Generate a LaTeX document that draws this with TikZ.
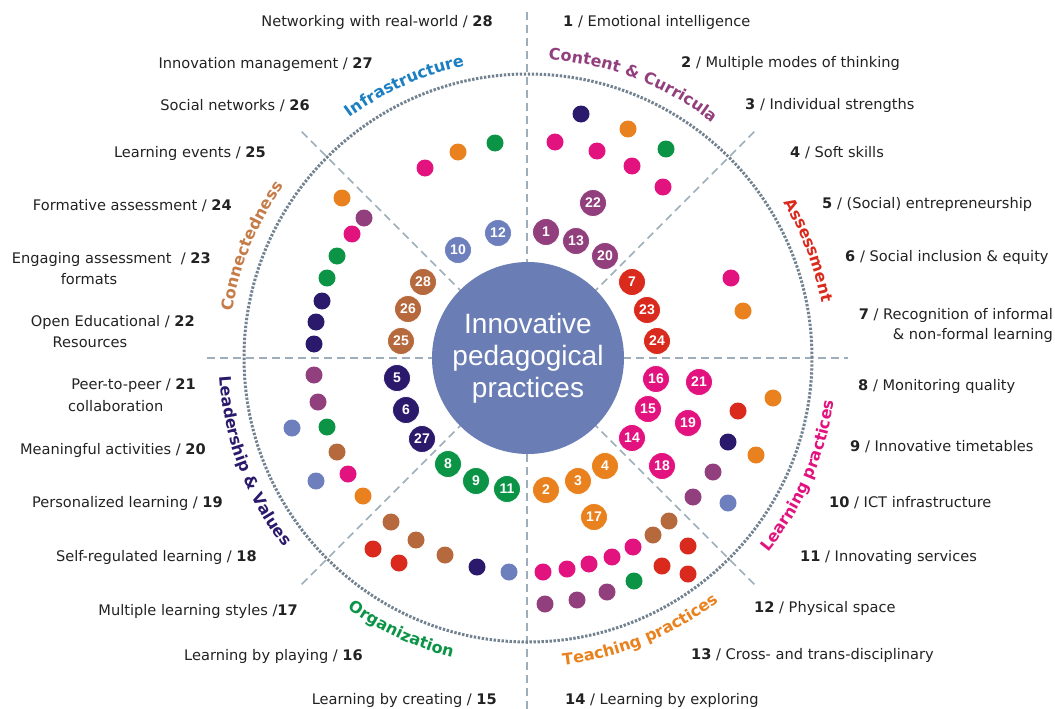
\documentclass[tikz,border=0pt]{standalone}
\usepackage{fontspec}
\setmainfont{DejaVu Sans}
\newfontfamily\hubfont{Liberation Sans}
\usepackage{xcolor}
\usetikzlibrary{decorations.text}
\definecolor{ink}{HTML}{222222}
\definecolor{ringGray}{HTML}{728290}
\definecolor{lineGray}{HTML}{9DAEBA}
\definecolor{hubBlue}{HTML}{6A7DB5}
\definecolor{cPurple}{HTML}{923F7E}
\definecolor{cMagenta}{HTML}{E2127F}
\definecolor{cOrange}{HTML}{E9821E}
\definecolor{cGreen}{HTML}{0B9446}
\definecolor{cNavy}{HTML}{2B1A6B}
\definecolor{cRed}{HTML}{DA2A1D}
\definecolor{cBrown}{HTML}{B5693C}
\definecolor{cSlate}{HTML}{6D80BD}
\definecolor{cBlue}{HTML}{1C7FC1}
\definecolor{cTan}{HTML}{C47C48}
\newcommand\catfont{\bfseries\fontsize{16}{16}\selectfont}
\tikzset{
  ringLine/.style={draw=ringGray, line width=3pt, dash pattern=on 2.4pt off 1.6pt},
  sectorLine/.style={draw=lineGray, line width=1.7pt, dash pattern=on 8pt off 5pt},
  hubDisk/.style={circle, fill=hubBlue, text=white, minimum size=192pt, inner sep=0pt,
    align=center, font=\hubfont\fontsize{28}{32}\selectfont},
  numDot/.style={circle, fill=#1, draw=white, line width=0.8pt, text=white,
    minimum size=27pt, inner sep=0pt, font=\hubfont\bfseries\fontsize{14}{14}\selectfont},
  smallDot/.style={circle, fill=#1, minimum size=17pt, inner sep=0pt},
  itemText/.style={text=ink, font=\fontsize{14.6}{20}\selectfont, inner sep=0pt},
  catPath/.style={decorate, decoration={text along path, text align=center, text={#1}}}
}

\begin{document}
\begin{tikzpicture}[x=1pt, y=-1pt]
  \useasboundingbox (0,0) rectangle (1055,709);

  \coordinate (c) at (528,358);
  \coordinate (west) at (207,358);
  \coordinate (east) at (848,358);
  \coordinate (north) at (527,12);
  \coordinate (south) at (527,709);

  \draw[sectorLine] (west) -- (east);
  \draw[sectorLine] (north) -- (south);

  \begin{scope}[shift={(528,358)}]
    \foreach \a/\nm in {45/ne, 135/nw, 225/sw, 315/se}
      \coordinate (\nm) at (\a:320pt);
    \draw[ringLine] (0,0) circle[radius=284pt];

    \path[catPath={|\catfont\color{cBlue}|Infrastructure}]
      (154.4:299pt) arc[start angle=154.4, end angle=74.4, radius=299pt];
    \path[catPath={|\catfont\color{cPurple}|Content {\&} Curricula}]
      (109:299pt) arc[start angle=109, end angle=29, radius=299pt];
    \path[catPath={|\catfont\color{cRed}|Assessment}]
      (61:299pt) arc[start angle=61, end angle=-19, radius=299pt];
    \path[catPath={|\catfont\color{cTan}|Connectedness}]
      (198:299pt) arc[start angle=198, end angle=118, radius=299pt];
    \path[catPath={|\catfont\color{cNavy}|Leadership {\&} Values}]
      (160.6:309pt) arc[start angle=160.6, end angle=240.6, radius=309pt];
    \path[catPath={|\catfont\color{cGreen}|Organization}]
      (205:309pt) arc[start angle=205, end angle=285, radius=309pt];
    \path[catPath={|\catfont\color{cOrange}|Teaching practices}]
      (252.3:309pt) arc[start angle=252.3, end angle=332.3, radius=309pt];
    \path[catPath={|\catfont\color{cMagenta}|Learning practices}]
      (296.5:309pt) arc[start angle=296.5, end angle=376.5, radius=309pt];
  \end{scope}

  \foreach \nm in {ne, nw, sw, se}
    \draw[sectorLine] (c) -- (\nm);

  \node[hubDisk] (hub) at (c) {Innovative\\pedagogical\\practices};

  \foreach \x/\y/\col [count=\i] in {
      495/143/cGreen, 458/152/cOrange, 425/168/cMagenta,
      342/198/cOrange, 364/218/cPurple, 352/234/cMagenta, 337/256/cGreen,
      327/278/cGreen, 322/301/cNavy, 316/322/cNavy, 314/344/cNavy,
      314/375/cPurple, 318/402/cPurple, 292/428/cSlate, 327/427/cGreen,
      337/452/cBrown, 348/474/cMagenta, 316/481/cSlate, 363/496/cOrange,
      391/522/cBrown, 416/540/cBrown, 373/549/cRed, 399/563/cRed,
      445/555/cBrown, 477/567/cNavy, 509/572/cSlate,
      669/521/cBrown, 653/535/cBrown, 633/547/cMagenta, 612/557/cMagenta,
      589/564/cMagenta, 567/569/cMagenta, 543/572/cMagenta, 688/546/cRed,
      662/566/cRed, 688/574/cRed, 634/581/cGreen, 607/592/cPurple,
      577/600/cPurple, 545/604/cPurple,
      738/411/cRed, 773/398/cOrange, 728/442/cNavy, 756/455/cOrange,
      713/472/cPurple, 693/497/cPurple, 728/503/cSlate,
      731/278/cMagenta, 743/311/cOrange,
      581/114/cNavy, 555/142/cMagenta, 597/151/cMagenta, 628/129/cOrange,
      666/149/cGreen, 632/166/cMagenta, 663/187/cMagenta}
    \node[smallDot=\col] (d\i) at (\x,\y) {};

  \foreach \n/\x/\y/\col in {
      12/498/233/cSlate, 10/458/250/cSlate,
      22/593/203/cPurple, 1/546/232/cPurple, 13/576/241/cPurple, 20/605/256/cPurple,
      7/632/282/cRed, 23/647/310/cRed, 24/657/341/cRed,
      16/656/379/cMagenta, 21/699/382/cMagenta, 15/648/409/cMagenta,
      19/688/423/cMagenta, 14/632/438/cMagenta, 18/662/466/cMagenta,
      4/605/466/cOrange, 3/578/481/cOrange, 2/546/490/cOrange, 17/594/517/cOrange,
      8/448/464/cGreen, 9/476/481/cGreen, 11/507/489/cGreen,
      5/397/378/cNavy, 6/406/410/cNavy, 27/422/439/cNavy,
      28/423/282/cBrown, 26/408/309/cBrown, 25/401/341/cBrown}
    \node[numDot=\col] (n\n) at (\x,\y) {\n};

  % right-hand items
  \node[itemText, anchor=west] (i1) at (563,22) {\textbf{1} / Emotional intelligence};
  \node[itemText, anchor=west] (i2) at (681,63) {\textbf{2} / Multiple modes of thinking};
  \node[itemText, anchor=west] (i3) at (745,105) {\textbf{3} / Individual strengths};
  \node[itemText, anchor=west] (i4) at (790,153) {\textbf{4} / Soft skills};
  \node[itemText, anchor=west] (i5) at (822,204) {\textbf{5} / (Social) entrepreneurship};
  \node[itemText, anchor=west] (i6) at (845,257) {\textbf{6} / Social inclusion \& equity};
  \node[itemText, anchor=east, align=right] (i7) at (1053,325)
    {\textbf{7} / Recognition of informal\\\& non-formal learning};
  \node[itemText, anchor=west] (i8) at (858,386) {\textbf{8} / Monitoring quality};
  \node[itemText, anchor=west] (i9) at (850,447) {\textbf{9} / Innovative timetables};
  \node[itemText, anchor=west] (i10) at (829,503) {\textbf{10} / ICT infrastructure};
  \node[itemText, anchor=west] (i11) at (800,557) {\textbf{11} / Innovating services};
  \node[itemText, anchor=west] (i12) at (754,608) {\textbf{12} / Physical space};
  \node[itemText, anchor=west] (i13) at (691,655) {\textbf{13} / Cross- and trans-disciplinary};
  \node[itemText, anchor=west] (i14) at (565,700) {\textbf{14} / Learning by exploring};

  % left-hand items
  \node[itemText, anchor=east] (i15) at (497,700) {Learning by creating / \textbf{15}};
  \node[itemText, anchor=east] (i16) at (363,656) {Learning by playing / \textbf{16}};
  \node[itemText, anchor=east] (i17) at (298,611) {Multiple learning styles /\textbf{17}};
  \node[itemText, anchor=east] (i18) at (257,557) {Self-regulated learning / \textbf{18}};
  \node[itemText, anchor=east] (i19) at (223,503) {Personalized learning / \textbf{19}};
  \node[itemText, anchor=east] (i20) at (206,450) {Meaningful activities / \textbf{20}};
  \node[itemText, anchor=east] (i21) at (196,386) {Peer-to-peer / \textbf{21}};
  \node[itemText, anchor=west] (i21b) at (68,406) {collaboration};
  \node[itemText, anchor=east] (i22) at (195,322) {Open Educational / \textbf{22}};
  \node[itemText] (i22b) at (90,342) {Resources};
  \node[itemText, anchor=east] (i23) at (211,259) {Engaging assessment\ \ / \textbf{23}};
  \node[itemText] (i23b) at (89,279) {formats};
  \node[itemText, anchor=east] (i24) at (232,206) {Formative assessment / \textbf{24}};
  \node[itemText, anchor=east] (i25) at (266,153) {Learning events / \textbf{25}};
  \node[itemText, anchor=east] (i26) at (310,106) {Social networks / \textbf{26}};
  \node[itemText, anchor=east] (i27) at (373,64) {Innovation management / \textbf{27}};
  \node[itemText, anchor=east] (i28) at (493,22) {Networking with real-world / \textbf{28}};
\end{tikzpicture}
\end{document}
